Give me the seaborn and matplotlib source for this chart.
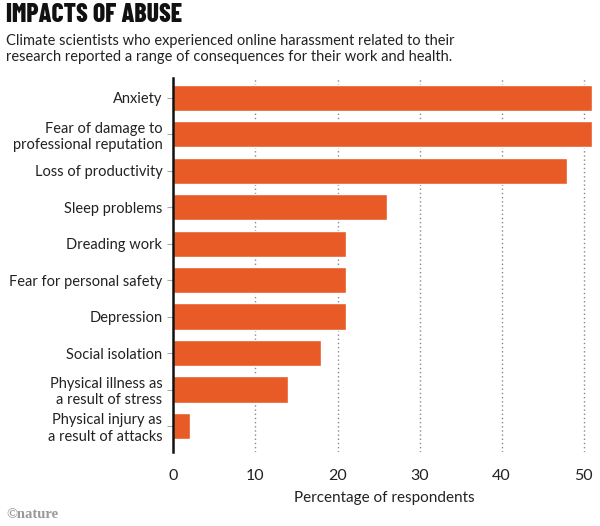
import matplotlib
matplotlib.use("Agg")
import matplotlib.pyplot as plt
import seaborn as sns
import pandas as pd

categories = [
    "Anxiety",
    "Fear of damage to\nprofessional reputation",
    "Loss of productivity",
    "Sleep problems",
    "Dreading work",
    "Fear for personal safety",
    "Depression",
    "Social isolation",
    "Physical illness as\na result of stress",
    "Physical injury as\na result of attacks",
]
values = [51, 51, 48, 26, 21, 21, 21, 18, 14, 2]
xticks = [0, 10, 20, 30, 40, 50]

df = pd.DataFrame({"category": categories, "value": values})

sns.set_theme(style="white")
plt.rcParams["font.family"] = ["Lato", "DejaVu Sans"]

fig = plt.figure(figsize=(6.0, 5.26), dpi=100)
ax = fig.add_axes([0.289, 0.141, 0.703, 0.711])

sns.barplot(data=df, x="value", y="category", color="#E85A26", width=0.72,
            saturation=1, ax=ax, orient="h")

ax.set_xlim(0, 51.4)
ax.set_ylim(9.71, -0.55)
ax.set_xticks(xticks)
ax.set_xticklabels([str(t) for t in xticks], fontsize=11.5, color="#222222")
for t in xticks[1:]:
    ax.axvline(t, color="#888888", linestyle=(0, (1, 2)), linewidth=1, zorder=0)

for s in ["top", "right", "bottom"]:
    ax.spines[s].set_visible(False)
ax.spines["left"].set_color("#111111")
ax.spines["left"].set_linewidth(1.8)
ax.spines["left"].set_zorder(5)

ax.tick_params(axis="y", which="both", left=True, length=4, color="#aaaaaa",
               width=0.8, labelsize=10.5, labelcolor="#222222", pad=4)
ax.tick_params(axis="x", which="both", bottom=False, pad=6)
ax.set_ylabel("")
ax.set_xlabel("Percentage of respondents", fontsize=11, color="#222222", labelpad=6)

fig.text(0.01, 0.995, "IMPACTS OF ABUSE", fontsize=18.5, fontweight=800,
         family=["Barlow Condensed", "DejaVu Sans"], va="top", ha="left",
         color="#111111")
fig.text(0.01, 0.935, "Climate scientists who experienced online harassment related to their\n"
         "research reported a range of consequences for their work and health.",
         fontsize=10.5, va="top", ha="left", color="#222222", linespacing=1.15)
fig.text(0.01, 0.022, "\u00a9nature", fontsize=10.5, fontweight="bold",
         family=["Liberation Serif", "DejaVu Serif"],
         color="#999999", va="center", ha="left")

fig.savefig("out.png", dpi=100)
